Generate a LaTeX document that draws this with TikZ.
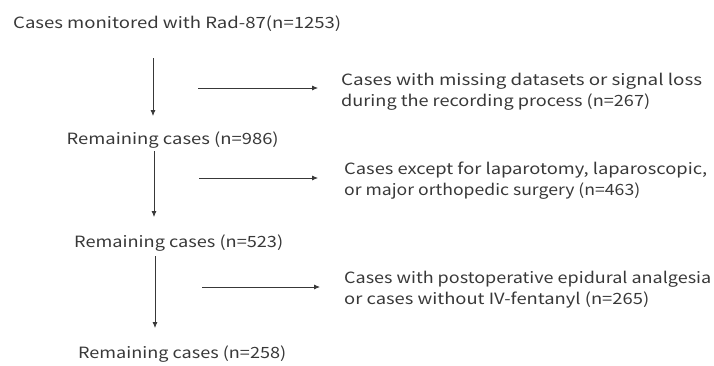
\documentclass[tikz,border=0pt]{standalone}
\usepackage{fontspec}
\usepackage{graphicx}
\setmainfont{Noto Sans CJK JP}
\usetikzlibrary{arrows.meta}
\definecolor{txt}{HTML}{383838}
\newcommand{\fitw}[2]{\resizebox{#1pt}{\height}{#2}}
\tikzset{
  lbl/.style={anchor=west, inner sep=0pt, text=txt, font=\fontsize{15.5}{21}\selectfont, align=left},
  arr/.style={draw=txt, line width=0.75pt, -{Latex[length=6pt,width=5pt]}}
}
\begin{document}
\begin{tikzpicture}[x=1pt,y=-1pt]
\useasboundingbox (0,0) rectangle (714,365);
\node[lbl] (t0) at (13,24) {\fitw{328}{Cases monitored with Rad-87(n=1253)}};
\node[lbl] (r1) at (341,92) {\fitw{361}{Cases with missing datasets or signal loss}\\\fitw{309}{during the recording process (n=267)}};
\node[lbl] (c1) at (66.5,140) {\fitw{212}{Remaining cases (n=986)}};
\node[lbl] (r2) at (344,181) {\fitw{363}{Cases except for laparotomy, laparoscopic,}\\\fitw{296}{or major orthopedic surgery (n=463)}};
\node[lbl] (c2) at (74,243) {\fitw{209}{Remaining cases (n=523)}};
\node[lbl] (r3) at (344,290) {\fitw{367}{Cases with postoperative epidural analgesia}\\\fitw{305}{or cases without IV-fentanyl (n=265)}};
\node[lbl] (c3) at (78,354) {\fitw{208}{Remaining cases (n=258)}};
\coordinate (a1s) at (153,58); \coordinate (a1e) at (153,116);
\coordinate (h1s) at (198,88); \coordinate (h1e) at (318,88);
\coordinate (a2s) at (154,151); \coordinate (a2e) at (154,217);
\coordinate (h2s) at (199,178); \coordinate (h2e) at (318,178);
\coordinate (a3s) at (155,256); \coordinate (a3e) at (155,328);
\coordinate (h3s) at (202,287); \coordinate (h3e) at (320,287);
\draw[arr] (a1s) -- (a1e);
\draw[arr] (h1s) -- (h1e);
\draw[arr] (a2s) -- (a2e);
\draw[arr] (h2s) -- (h2e);
\draw[arr] (a3s) -- (a3e);
\draw[arr] (h3s) -- (h3e);
\end{tikzpicture}
\end{document}
